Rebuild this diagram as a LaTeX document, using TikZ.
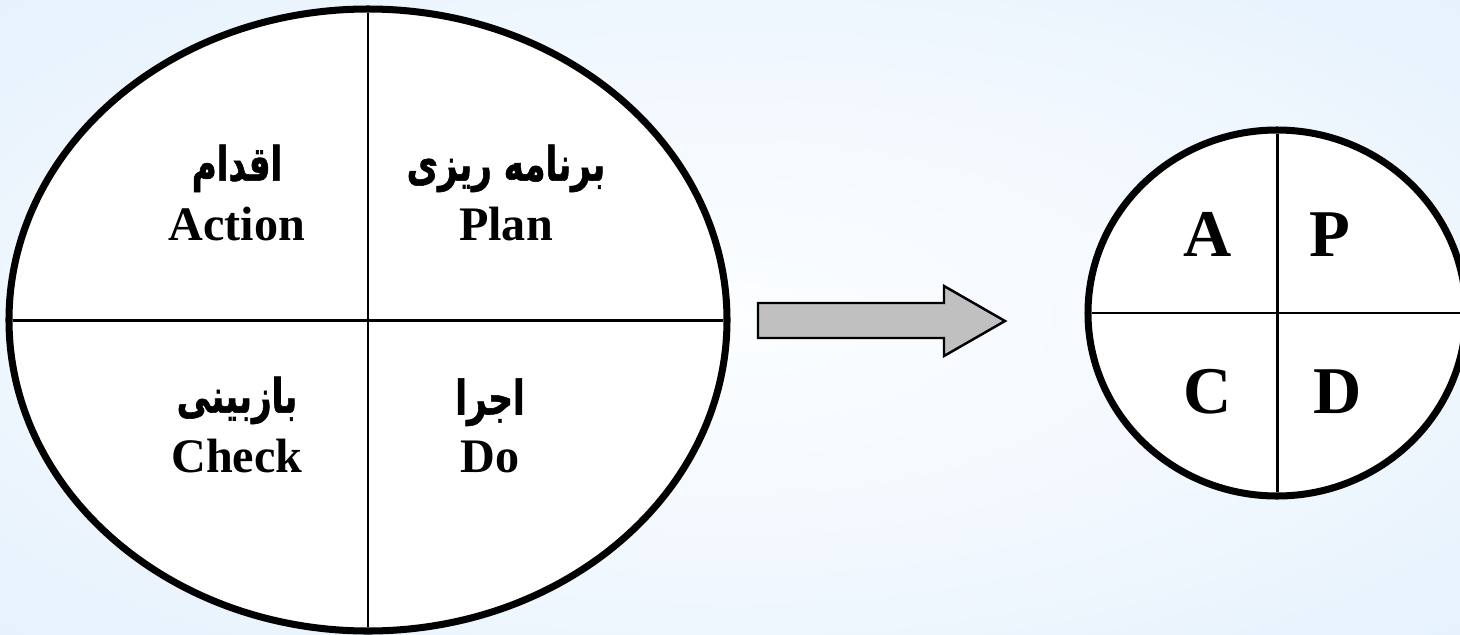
\documentclass[tikz,border=0pt]{standalone}
\usepackage{fontspec}
\setmainfont{Liberation Serif}
\newfontfamily\persianfont[Script=Arabic, FakeStretch=0.72, FakeBold=1.2]{DejaVu Sans}
\TeXXeTstate=1
\usepackage{tikz}
\usetikzlibrary{positioning,shapes.geometric}
\definecolor{skypale}{RGB}{252, 254, 255}
\definecolor{skymid}{RGB}{240, 247, 254}
\definecolor{skyblue}{RGB}{218, 235, 250}
\definecolor{silver}{RGB}{192, 192, 192}
\pgfdeclareradialshading{skyglow}{\pgfpoint{0bp}{0bp}}{color(0bp)=(skypale); color(22bp)=(skymid); color(50bp)=(skyblue)}
\tikzset{
  quarterlbl/.style={font=\fontsize{13.7}{16}\selectfont\bfseries, anchor=base, inner sep=0pt},
  farsilbl/.style={font=\fontsize{13.5}{15}\persianfont\bfseries, inner sep=0pt},
  letterlbl/.style={font=\fontsize{19}{22}\selectfont\bfseries, anchor=base, inner sep=0pt},
  wheel/.style={ellipse, draw=black, fill=white, line width=2pt, inner sep=0pt, outer sep=0pt},
  divider/.style={line width=0.85pt, shorten >=1pt, shorten <=1pt}
}
\begin{document}
\begin{tikzpicture}
            \useasboundingbox (0.00, 0.00) rectangle (14.60, 6.34);
            \shade[shading=skyglow] (0.00, 0.00) rectangle (14.60, 6.34);
            \node[wheel, minimum width=7.18cm, minimum height=6.22cm] (cycle) at ( 3.68, 3.14) {};
            \draw[divider] (cycle.north) -- (cycle.south);
            \draw[divider] (cycle.west)  -- (cycle.east);
            \node[quarterlbl] (action) at ( 2.37, 3.94) {Action};
            \node[quarterlbl] (plan)   at ( 5.06, 3.94) {Plan};
            \node[quarterlbl] (check)  at ( 2.37, 1.62) {Check};
            \node[quarterlbl] (do)     at ( 4.90, 1.62) {Do};
            \node[farsilbl, above=0.13 of action] (eqdam)   {\beginR اقدام\endR};
            \node[farsilbl, above=0.13 of plan]   (barname) {\beginR برنامه ریزی\endR};
            \node[farsilbl, above=0.13 of check]  (bazbini) {\beginR بازبینی\endR};
            \node[farsilbl, above=0.13 of do]     (ejra)    {\beginR اجرا\endR};
            \filldraw[black, fill=silver, line width=0.7pt]
                 ( 7.58, 3.31) -- ( 9.44, 3.31) -- ( 9.44, 3.48) -- (10.05, 3.13)
              -- ( 9.44, 2.78) -- ( 9.44, 2.96) -- ( 7.58, 2.96) -- cycle;
            \node[wheel, minimum width=3.78cm, minimum height=3.66cm] (short) at (12.77, 3.21) {};
            \draw[divider] (short.north) -- (short.south);
            \draw[divider] (short.west)  -- (short.east);
            \node[letterlbl] (a) at (12.08, 3.78) {A};
            \node[letterlbl] (p) at (13.30, 3.78) {P};
            \node[letterlbl] (c) at (12.08, 2.21) {C};
            \node[letterlbl] (d) at (13.38, 2.21) {D};
        \end{tikzpicture}
\end{document}
